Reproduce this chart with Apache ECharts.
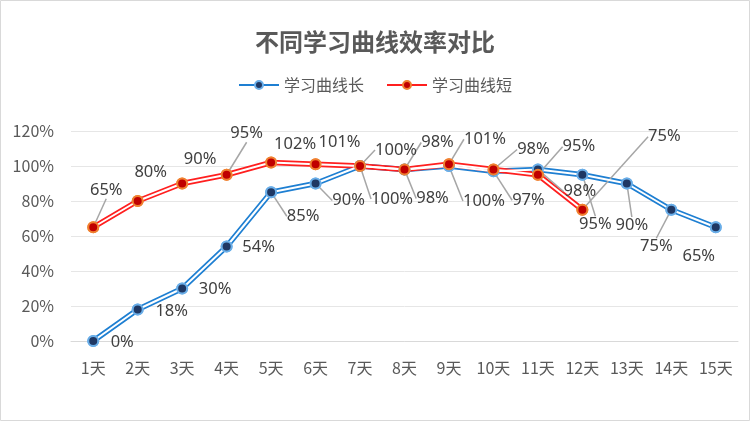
<!DOCTYPE html>
<html>
  <head>
    <meta charset="UTF-8" />
    <title></title>
    <script src="https://cdn.jsdelivr.net/npm/echarts@6/dist/echarts.min.js"></script>
    <style>
      body { margin: 0; }
    </style>
  </head>
  <body>
    <div id="main"></div>
    <script>
      const width = 750;
      const height = 421;
      const main = document.getElementById('main');
      main.style.width = `${width}px`;
      main.style.height = `${height}px`;

      const days = ['1天', '2天', '3天', '4天', '5天', '6天', '7天', '8天', '9天', '10天', '11天', '12天', '13天', '14天', '15天'];
      const longCurve = [0, 18, 30, 54, 85, 90, 100, 98, 100, 97, 98, 95, 90, 75, 65];
      const shortCurve = [65, 80, 90, 95, 102, 101, 100, 98, 101, 98, 95, 75];

      // label offsets from each point, [dx, dy]
      const longOffsets = [
        [29, 1], [34, 2], [33, 1], [32, 1], [32, 24], [33, 17], [32, 33], [28, 29],
        [35, 35], [35, 29], [42, 22], [13, 50], [5, 42], [-15, 37], [-17, 29],
      ];
      const shortOffsets = [
        [13, -37], [13, -29], [18, -24], [20, -41], [24, -18], [24, -22], [36, -16],
        [33, -27], [36, -25], [40, -20], [41, -28], [82, -73],
      ];

      const textColor = '#595959';

      function buildData(values, offsets) {
        return values.map((v, i) => {
          const o = offsets[i];
          const far = Math.hypot(o[0], o[1]) > 36;
          return { value: v, labelLine: { show: far } };
        });
      }

      function layoutFor(offsets) {
        return (params) => {
          const o = offsets[params.dataIndex];
          return { dx: o[0], dy: o[1] };
        };
      }

      // Excel-style compound line: thick coloured stroke with a thin white core
      function makeSeries(name, values, offsets, lineColor, fill, border) {
        const markerStyle = { color: fill, borderColor: border, borderWidth: 2 };
        return [
          {
            name: name,
            type: 'line',
            data: buildData(values, offsets),
            symbol: 'circle',
            symbolSize: 10,
            lineStyle: { color: lineColor, width: 5.5 },
            itemStyle: markerStyle,
            label: {
              show: true,
              position: 'inside',
              formatter: '{c}%',
              color: '#404040',
              fontSize: 16.5,
              fontFamily: 'Noto Sans',
            },
            labelLine: { show: true, lineStyle: { color: '#a6a6a6', width: 1.5 } },
            labelLayout: layoutFor(offsets),
            z: 2,
          },
          {
            name: name + '-inner',
            type: 'line',
            data: values,
            symbol: 'circle',
            symbolSize: 10,
            showSymbol: true,
            lineStyle: { color: '#ffffff', width: 2, opacity: 1 },
            itemStyle: markerStyle,
            silent: true,
            z: 5,
          },
        ];
      }

      const myChart = echarts.init(main);
      const option = {
        animation: false,
        textStyle: { fontFamily: '"Noto Sans CJK SC", "Noto Sans", sans-serif' },
        title: {
          text: '不同学习曲线效率对比',
          left: 'center',
          top: 25,
          textStyle: { color: textColor, fontSize: 24, fontWeight: 'bold' },
        },
        legend: {
          data: ['学习曲线长', '学习曲线短'],
          top: 72,
          left: 'center',
          itemWidth: 40,
          itemHeight: 10,
          itemGap: 22,
          textStyle: { color: textColor, fontSize: 16 },
        },
        graphic: [
          {
            type: 'rect',
            shape: { x: 0.5, y: 0.5, width: width - 1, height: height - 1 },
            style: { fill: 'none', stroke: '#d9d9d9', lineWidth: 1 },
            silent: true,
          },
        ],
        grid: { left: 71, right: 12, top: 131, bottom: 80 },
        xAxis: {
          type: 'category',
          data: days,
          axisLine: { lineStyle: { color: '#d9d9d9' } },
          axisTick: { show: false },
          axisLabel: { color: textColor, fontSize: 16, margin: 19 },
        },
        yAxis: {
          type: 'value',
          min: 0,
          max: 120,
          interval: 20,
          axisLabel: { color: textColor, fontSize: 16, formatter: '{value}%', margin: 17 },
          splitLine: { lineStyle: { color: '#e6e6e6' } },
        },
        series: [
          ...makeSeries('学习曲线长', longCurve, longOffsets, '#1e7fd2', '#1f3864', '#6aaee8'),
          ...makeSeries('学习曲线短', shortCurve, shortOffsets, '#ff1f1f', '#c00000', '#f08030'),
        ],
      };
      myChart.setOption(option);
    </script>
  </body>
</html>
